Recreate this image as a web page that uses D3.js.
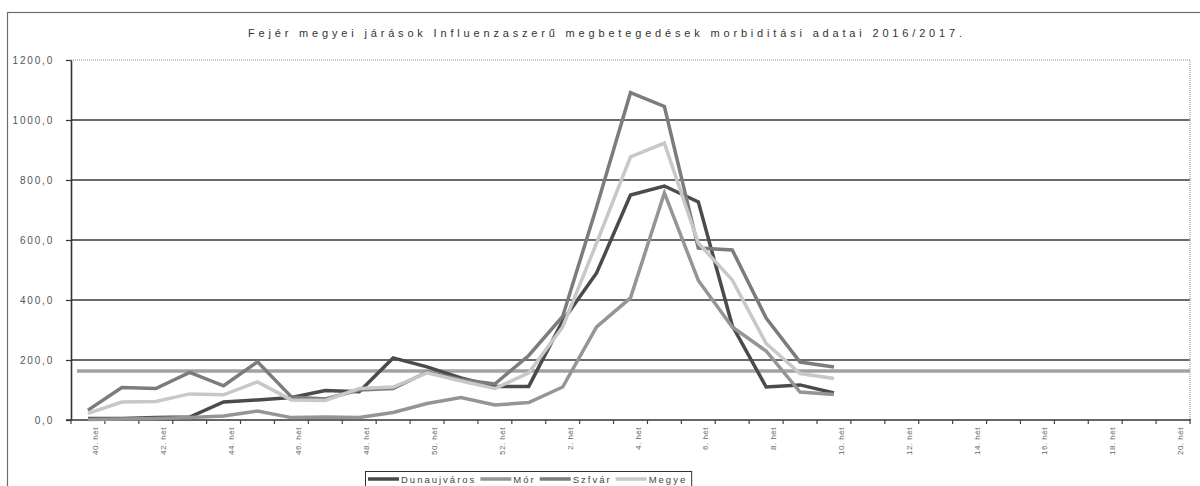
<!DOCTYPE html>
<html>
<head>
<meta charset="utf-8">
<script src="https://cdn.jsdelivr.net/npm/d3@7"></script>
<style>
  body { margin: 0; background: #fff; }
  svg text { font-family: "Liberation Sans", Arial, sans-serif; }
</style>
</head>
<body>
<script>
// weeks of the 2016/2017 season (40. hét ... 20. hét)
const weeks = ["40","41","42","43","44","45","46","47","48","49","50","51","52",
               "1","2","3","4","5","6","7","8","9","10","11","12","13","14","15","16","17","18","19","20"];

// morbidity per week (data stops at week 10)
const dunaujvaros = [5, 5, 8, 10, 60, 67, 75, 98, 94, 207, 177, 140, 112, 112, 330, 490, 750, 780, 727, 315, 110, 117, 90];
const mor         = [2, 3, 5, 8, 13, 30, 8, 10, 8, 25, 55, 75, 50, 58, 110, 310, 407, 757, 465, 310, 230, 93, 85];
const szfvar      = [33, 108, 105, 159, 114, 194, 77, 70, 100, 105, 160, 135, 120, 215, 345, 710, 1091, 1045, 573, 567, 340, 193, 177];
const megye       = [22, 60, 62, 87, 84, 127, 67, 65, 105, 110, 157, 130, 105, 157, 310, 590, 877, 923, 590, 467, 255, 155, 138];
const threshold = 163;

const seriesNames = ["Dunaujváros", "Mór", "Szfvár", "Megye"];
const yTicks = [0, 200, 400, 600, 800, 1000, 1200];

const colors = ["#4b4b4b", "#959595", "#7c7c7c", "#c8c8c8"];

const width = 1200, height = 486;
const svg = d3.select("body").append("svg")
    .attr("width", width)
    .attr("height", height);

// outer frame
svg.append("rect")
    .attr("x", 7.5).attr("y", 12.5)
    .attr("width", 1210).attr("height", 500)
    .attr("fill", "none").attr("stroke", "#6e6e6e").attr("stroke-width", 1.2);

const x = d3.scaleBand().domain(weeks).range([71, 1190]);
const y = d3.scaleLinear().domain([0, 1200]).range([420, 60]);
const cx = w => x(w) + x.bandwidth() / 2;

// title
svg.append("text")
    .attr("x", 605).attr("y", 37)
    .attr("text-anchor", "middle")
    .attr("font-size", 11)
    .attr("fill", "#333")
    .attr("textLength", 714)
    .attr("lengthAdjust", "spacing")
    .text("Fejér megyei járások Influenzaszerű megbetegedések morbiditási adatai 2016/2017.");

// gridlines
svg.append("g").selectAll("line")
    .data(yTicks.filter(t => t > 0 && t < 1200))
    .join("line")
    .attr("x1", 71).attr("x2", 1190)
    .attr("y1", d => y(d)).attr("y2", d => y(d))
    .attr("stroke", "#3a3a3a").attr("stroke-width", 1.3);

// dotted plot border top / right
svg.append("line")
    .attr("x1", 71).attr("x2", 1190).attr("y1", y(1200)).attr("y2", y(1200))
    .attr("stroke", "#888").attr("stroke-dasharray", "1,1");
svg.append("line")
    .attr("x1", 1190).attr("x2", 1190).attr("y1", y(1200)).attr("y2", y(0))
    .attr("stroke", "#888").attr("stroke-dasharray", "1,1");

// y axis
const yAxis = svg.append("g")
    .attr("transform", "translate(71,0)")
    .call(d3.axisLeft(y)
        .tickValues(yTicks)
        .tickSize(5)
        .tickSizeOuter(0)
        .tickPadding(12)
        .tickFormat(d => d3.format(".1f")(d).replace(".", ",")));
yAxis.select(".domain").attr("stroke", "#333").attr("stroke-width", 1.6);
yAxis.selectAll(".tick line").attr("stroke", "#333").attr("stroke-width", 1.2);
yAxis.selectAll("text")
    .attr("font-size", 10)
    .attr("letter-spacing", "1.8px")
    .attr("fill", "#555")
    .attr("font-family", "Liberation Sans, Arial, sans-serif");

// x axis line + boundary ticks
svg.append("line")
    .attr("x1", 66).attr("x2", 1191).attr("y1", y(0)).attr("y2", y(0))
    .attr("stroke", "#333").attr("stroke-width", 1.6);
svg.append("g").selectAll("line")
    .data(weeks.concat(["end"]))
    .join("line")
    .attr("x1", d => d === "end" ? 1190 : x(d))
    .attr("x2", d => d === "end" ? 1190 : x(d))
    .attr("y1", y(0)).attr("y2", y(0) + 4)
    .attr("stroke", "#444").attr("stroke-width", 1.2);

// x tick labels, every second week, rotated
svg.append("g").selectAll("text")
    .data(weeks.filter((w, i) => i % 2 === 0))
    .join("text")
    .attr("transform", d => `translate(${cx(d) + 10},427) rotate(-90)`)
    .attr("text-anchor", "end")
    .attr("font-size", 8)
    .attr("letter-spacing", "0.5px")
    .attr("fill", "#666")
    .text(d => d + ". hét");

// epidemic threshold line
svg.append("line")
    .attr("x1", 77).attr("x2", 1190)
    .attr("y1", y(threshold)).attr("y2", y(threshold))
    .attr("stroke", "#a2a2a2").attr("stroke-width", 3.5);

// series
const allSeries = [dunaujvaros, mor, szfvar, megye];
const line = d3.line()
    .x((d, i) => cx(weeks[i]))
    .y(d => y(d));

svg.append("g").selectAll("path")
    .data(allSeries)
    .join("path")
    .attr("d", line)
    .attr("fill", "none")
    .attr("stroke", (d, i) => colors[i])
    .attr("stroke-width", 3.5)
    .attr("stroke-linejoin", "miter");

// legend
const legend = svg.append("g").attr("transform", "translate(365,471)");
const legendBox = legend.append("rect")
    .attr("x", 0.5).attr("y", 0.5).attr("height", 15)
    .attr("fill", "#fff").attr("stroke", "#333");
let lx = 3;
seriesNames.forEach((name, i) => {
    legend.append("line")
        .attr("x1", lx).attr("x2", lx + 31)
        .attr("y1", 8).attr("y2", 8)
        .attr("stroke", colors[i]).attr("stroke-width", 3.5);
    const t = legend.append("text")
        .attr("x", lx + 33).attr("y", 11.5)
        .attr("font-size", 9.5)
        .attr("letter-spacing", "2px")
        .attr("fill", "#444")
        .text(name);
    lx += 33 + t.node().getComputedTextLength() + 4;
});
legendBox.attr("width", lx);
</script>
</body>
</html>
